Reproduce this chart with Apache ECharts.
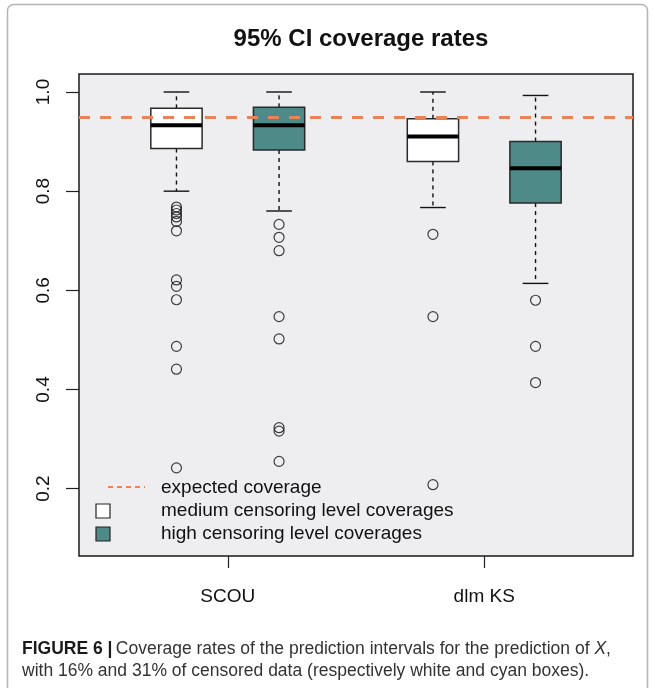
<!DOCTYPE html>
<html>
<head>
<meta charset="utf-8">
<script src="https://cdn.jsdelivr.net/npm/echarts@6/dist/echarts.min.js"></script>
<style>
html,body{margin:0;padding:0;background:#fff;}
#chart{width:655px;height:688px;}
</style>
</head>
<body>
<div id="chart"></div>
<script>
// ---- data ----
const categories = ['SCOU', 'dlm KS'];
const groupNames = ['medium censoring level coverages', 'high censoring level coverages'];
const expectedLabel = 'expected coverage';
const expectedCoverage = 0.95;
const yTicks = [0.2, 0.4, 0.6, 0.8, 1.0];
// [lower whisker, Q1, median, Q3, upper whisker] per category
const mediumStats = [
  [0.800, 0.886, 0.933, 0.967, 1.000],
  [0.767, 0.860, 0.910, 0.946, 1.000]
];
const highStats = [
  [0.760, 0.883, 0.933, 0.969, 1.000],
  [0.614, 0.776, 0.846, 0.900, 0.993]
];
const mediumOutliers = [
  [0.768, 0.762, 0.755, 0.748, 0.739, 0.720, 0.621, 0.608, 0.581, 0.487, 0.441, 0.242],
  [0.713, 0.547, 0.208]
];
const highOutliers = [
  [0.733, 0.707, 0.680, 0.547, 0.502, 0.323, 0.316, 0.255],
  [0.580, 0.487, 0.414]
];

// ---- layout ----
const groupCenters = [1.5, 4];
const boxOffset = 0.5;
const boxWidth = 0.5;
const FONT = "'Liberation Sans', Arial, Helvetica, sans-serif";
const TEAL = '#4e8a87';
const ORANGE = '#e8845a';

function boxData(stats, off) {
  return stats.map((s, i) => [groupCenters[i] + off].concat(s));
}
function outlierData(list, off) {
  const out = [];
  list.forEach((vals, i) => vals.forEach(v => out.push([groupCenters[i] + off, v])));
  return out;
}

function makeRender(fill) {
  return function (params, api) {
    const x = api.value(0);
    const pLw = api.coord([x, api.value(1)]);
    const pQ1 = api.coord([x, api.value(2)]);
    const pMed = api.coord([x, api.value(3)]);
    const pQ3 = api.coord([x, api.value(4)]);
    const pUw = api.coord([x, api.value(5)]);
    const half = api.size([boxWidth, 0])[0] / 2;
    const cap = half / 2;
    const cx = pQ1[0];
    const dashStyle = { stroke: '#111', lineWidth: 1.4, lineDash: [4, 4] };
    const solid = { stroke: '#111', lineWidth: 1.4 };
    return {
      type: 'group',
      children: [
        { type: 'line', shape: { x1: cx, y1: pQ3[1], x2: cx, y2: pUw[1] }, style: dashStyle },
        { type: 'line', shape: { x1: cx, y1: pQ1[1], x2: cx, y2: pLw[1] }, style: dashStyle },
        { type: 'line', shape: { x1: cx - cap, y1: pUw[1], x2: cx + cap, y2: pUw[1] }, style: solid },
        { type: 'line', shape: { x1: cx - cap, y1: pLw[1], x2: cx + cap, y2: pLw[1] }, style: solid },
        { type: 'rect', shape: { x: cx - half, y: pQ3[1], width: 2 * half, height: pQ1[1] - pQ3[1] },
          style: { fill: fill, stroke: '#2a2a2a', lineWidth: 1.5 } },
        { type: 'line', shape: { x1: cx - half, y1: pMed[1], x2: cx + half, y2: pMed[1] },
          style: { stroke: '#000', lineWidth: 4 } }
      ]
    };
  };
}

const outlierStyle = { color: 'rgba(0,0,0,0)', borderColor: '#111', borderWidth: 1.2 };

const chart = echarts.init(document.getElementById('chart'), null, { renderer: 'canvas' });
chart.setOption({
  animation: false,
  backgroundColor: '#fff',
  title: {
    text: '95% CI coverage rates',
    left: 356, top: 22, textAlign: 'center',
    textStyle: { fontFamily: FONT, fontSize: 24, fontWeight: 'bold', color: '#111' }
  },
  grid: {
    left: 79, right: 22, top: 74, bottom: 132,
    show: true, backgroundColor: '#eeeef0', borderColor: '#1a1a1a', borderWidth: 1.5
  },
  xAxis: {
    type: 'value', min: 0.05, max: 5.45,
    axisLine: { show: false },
    splitLine: { show: false },
    axisTick: { show: true, customValues: groupCenters, length: 12, lineStyle: { color: '#222', width: 1.2 } },
    axisLabel: {
      customValues: groupCenters,
      formatter: v => categories[groupCenters.indexOf(v)],
      fontFamily: FONT, fontSize: 19, color: '#111', margin: 31
    }
  },
  yAxis: {
    type: 'value', min: 0.0642, max: 1.0363,
    axisLine: { show: false },
    splitLine: { show: false },
    axisTick: { show: true, customValues: yTicks, length: 13, lineStyle: { color: '#222', width: 1.2 } },
    axisLabel: {
      customValues: yTicks,
      rotate: 90,
      formatter: v => v.toFixed(1),
      fontFamily: FONT, fontSize: 19, color: '#111', margin: 26
    }
  },
  series: [
    { name: groupNames[0], type: 'custom', renderItem: makeRender('#ffffff'),
      data: boxData(mediumStats, -boxOffset), encode: { x: 0, y: [1, 2, 3, 4, 5] }, z: 2 },
    { name: groupNames[1], type: 'custom', renderItem: makeRender(TEAL),
      data: boxData(highStats, boxOffset), encode: { x: 0, y: [1, 2, 3, 4, 5] }, z: 2 },
    { type: 'scatter', data: outlierData(mediumOutliers, -boxOffset), symbol: 'circle', symbolSize: 10,
      itemStyle: outlierStyle, z: 3 },
    { type: 'scatter', data: outlierData(highOutliers, boxOffset), symbol: 'circle', symbolSize: 10,
      itemStyle: outlierStyle, z: 3 },
    { name: expectedLabel, type: 'line', data: [], z: 5,
      markLine: {
        silent: true, symbol: 'none', label: { show: false },
        lineStyle: { color: ORANGE, width: 3, type: [11, 10] },
        data: [{ yAxis: expectedCoverage }]
      }
    }
  ],
  graphic: [
    { type: 'rect', z: -1, shape: { x: 7.5, y: 4.5, width: 640, height: 720, r: 6 },
      style: { fill: 'none', stroke: '#b5b5b5', lineWidth: 1.5 } },
    // legend
    { type: 'line', shape: { x1: 108, y1: 487, x2: 145, y2: 487 },
      style: { stroke: ORANGE, lineWidth: 1.8, lineDash: [5, 4] } },
    { type: 'rect', shape: { x: 96, y: 504, width: 14, height: 14 },
      style: { fill: '#fff', stroke: '#222', lineWidth: 1.2 } },
    { type: 'rect', shape: { x: 96, y: 527, width: 14, height: 14 },
      style: { fill: TEAL, stroke: '#222', lineWidth: 1.2 } },
    { type: 'text', x: 161, y: 488, style: { text: expectedLabel, font: '19px ' + FONT, fill: '#111', verticalAlign: 'middle' } },
    { type: 'text', x: 161, y: 511, style: { text: groupNames[0], font: '19px ' + FONT, fill: '#111', verticalAlign: 'middle' } },
    { type: 'text', x: 161, y: 534, style: { text: groupNames[1], font: '19px ' + FONT, fill: '#111', verticalAlign: 'middle' } },
    // caption
    { type: 'text', x: 22, y: 649,
      style: {
        text: '{b|FIGURE 6 |} {n|Coverage rates of the prediction intervals for the prediction of }{i|X}{n|,}',
        verticalAlign: 'middle',
        rich: {
          b: { fontFamily: FONT, fontSize: 17.5, fontWeight: 'bold', fill: '#1a1a1a' },
          n: { fontFamily: FONT, fontSize: 17.5, fill: '#333' },
          i: { fontFamily: FONT, fontSize: 17.5, fontStyle: 'italic', fill: '#333' }
        }
      } },
    { type: 'text', x: 22, y: 671,
      style: { text: 'with 16% and 31% of censored data (respectively white and cyan boxes).',
        font: '17.5px ' + FONT, fill: '#333', verticalAlign: 'middle' } }
  ]
});
</script>
</body>
</html>
